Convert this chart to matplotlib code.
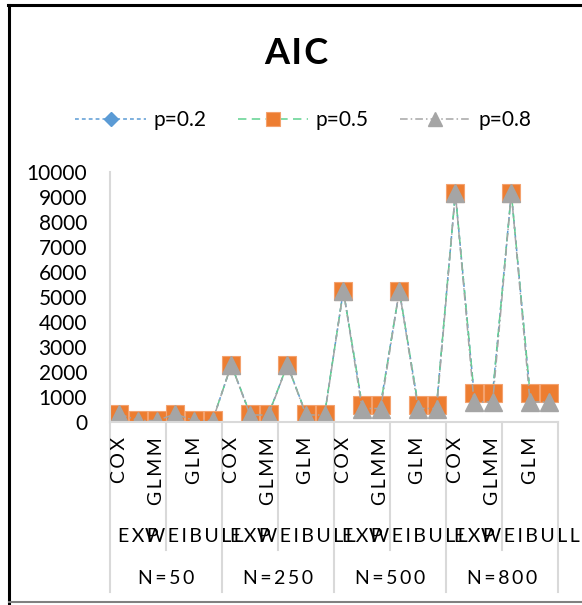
import numpy as np
import matplotlib
matplotlib.use("Agg")
import matplotlib.pyplot as plt
from matplotlib.lines import Line2D

plt.rcParams['font.family'] = ['Lato', 'DejaVu Sans']

# category hierarchy: sample size > distribution > model
sizes = ["N=50", "N=250", "N=500", "N=800"]
dists = ["EXP", "WEIBULL"]
models = ["COX", "GLM", "GLMM"]

# AIC per category, ordered N -> distribution -> model
aic_p02 = [320, 70, 70, 320, 70, 70,
           2290, 320, 320, 2290, 320, 320,
           5260, 700, 700, 5260, 700, 700,
           9160, 1150, 1150, 9160, 1150, 1150]
aic_p05 = [320, 70, 70, 320, 70, 70,
           2290, 320, 320, 2290, 320, 320,
           5260, 700, 700, 5260, 700, 700,
           9160, 1150, 1150, 9160, 1150, 1150]
aic_p08 = [320, 60, 60, 320, 60, 60,
           2290, 280, 280, 2290, 280, 280,
           5260, 540, 540, 5260, 540, 540,
           9160, 800, 800, 9160, 800, 800]

W, H = 582, 605
fig = plt.figure(figsize=(W / 100, H / 100), dpi=100)

def fx(px):
    return px / W

def fy(py):
    return 1 - py / H

ax_left, ax_right, ax_top, ax_bot = 110, 558, 172, 422
ax = fig.add_axes([fx(ax_left), fy(ax_bot), fx(ax_right - ax_left), (ax_bot - ax_top) / H])

x = np.arange(len(aic_p05))
grey = "#D9D9D9"

ax.plot(x, aic_p02, color="#5B9BD5", lw=1.1, dashes=(2.5, 2),
        marker="D", ms=8.8, mfc="#5B9BD5", mec="#5B9BD5", label="p=0.2")
ax.plot(x, aic_p05, color="#5FD28F", lw=1.1, dashes=(5.5, 3.5),
        marker="s", ms=12.5, mfc="#ED7D31", mec="#F4A26E", mew=0.8, label="p=0.5")
ax.plot(x, aic_p08, color="#A5A5A5", lw=1.1, dashes=(5, 2, 1, 2),
        marker="^", ms=12.5, mfc="#A5A5A5", mec="#A5A5A5", label="p=0.8")

ax.set_xlim(-0.5, len(x) - 0.5)
ax.set_ylim(0, 10000)
ax.set_yticks(np.arange(0, 10001, 1000))
ax.tick_params(axis="y", length=0, pad=16.5, labelsize=15)
ax.set_xticks([])
for s in ["top", "right"]:
    ax.spines[s].set_visible(False)
for s in ["left", "bottom"]:
    ax.spines[s].set_color(grey)
    ax.spines[s].set_linewidth(1.5)

def spaced(txt, sep="\u2009"):
    return sep.join(txt)

# multi-level category axis
tr = ax.get_xaxis_transform()
span = ax_bot - ax_top

def ay(py):
    return (ax_bot - py) / span

nd, nm = len(dists), len(models)
for i in range(0, len(x), 2):
    ax.text(i, ay(437), spaced(models[i % nm]), transform=tr, rotation=90,
            ha="center", va="top", fontsize=14)
for g in range(len(sizes) * nd):
    ax.text(g * nm + (nm - 1) / 2, ay(537), spaced(dists[g % nd]), transform=tr,
            ha="center", va="center", fontsize=14)
for k, lab in enumerate(sizes):
    ax.text(k * nd * nm + (nd * nm - 1) / 2, ay(578), spaced(lab), transform=tr,
            ha="center", va="center", fontsize=14)
    ax.plot([k * nd * nm - 0.5] * 2, [0, ay(592)], transform=tr, color=grey,
            lw=1.5, clip_on=False)
    ax.plot([k * nd * nm + nm - 0.5] * 2, [0, ay(550)], transform=tr, color=grey,
            lw=1.5, clip_on=False)
ax.plot([len(x) - 0.5] * 2, [0, ay(592)], transform=tr, color=grey, lw=1.5, clip_on=False)

fig.text(fx(296), fy(53), spaced("AIC", "\u200a"), ha="center", va="center",
         fontsize=26, fontweight="bold")

fig.legend(loc="center", bbox_to_anchor=(fx(303), fy(120)), ncol=3, frameon=False,
           fontsize=15, handlelength=3.4, handletextpad=0.35, columnspacing=1.5,
           markerscale=0.85)

# chart frame
fig.add_artist(Line2D([fx(9), fx(9)], [fy(5), fy(603)], color="black", lw=2.2))
fig.add_artist(Line2D([fx(8), 1], [fy(5), fy(5)], color="black", lw=2.2))
fig.add_artist(Line2D([fx(9), 1], [fy(602), fy(602)], color="#808080", lw=1.5))

fig.savefig("out.png", dpi=100)
